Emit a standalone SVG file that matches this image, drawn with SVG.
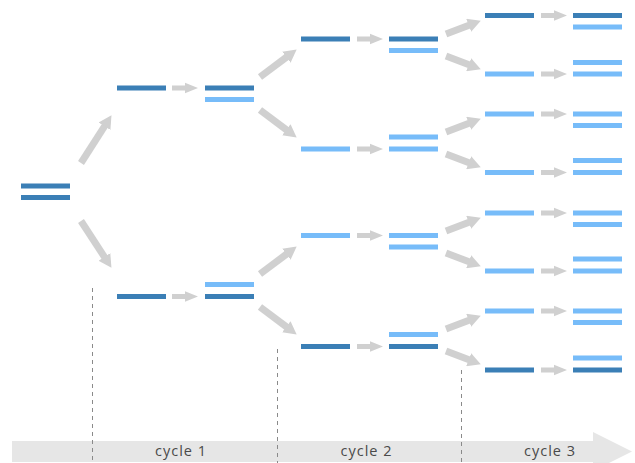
<svg xmlns="http://www.w3.org/2000/svg" width="635" height="463" viewBox="0 0 635 463">
<defs>
<style>
.d{fill:#3b7fb6}
.l{fill:#77bcf9}
.diag{stroke:#d0d0d0;stroke-width:7;fill:none;marker-end:url(#ah)}
.h{fill:#d0d0d0}
.dash{stroke:#8a8a8a;stroke-width:1;stroke-dasharray:4 4;fill:none}
.lbl{font-family:"Open Sans","Liberation Sans",sans-serif;font-size:14.5px;fill:#4a4a4a;text-anchor:middle}
</style>
<marker id="ah" markerUnits="userSpaceOnUse" markerWidth="14" markerHeight="14" refX="1" refY="6.5" orient="auto" viewBox="0 0 13 13">
<path d="M0,0 L12,6.5 L0,13 Z" fill="#d0d0d0"/>
</marker>
<path id="ha" d="M0,-2.5 H13 V-5.2 L26,0 L13,5.2 V2.5 H0 Z"/>
</defs>
<rect width="635" height="463" fill="#ffffff"/>

<g id="timeline">
<path d="M12,441 H593 V432 L632,451.5 L593,471 V462 H12 Z" fill="#e6e6e6"/>
<text class="lbl" x="180.5" y="456" textLength="51" lengthAdjust="spacing">cycle 1</text>
<text class="lbl" x="366" y="456" textLength="51" lengthAdjust="spacing">cycle 2</text>
<text class="lbl" x="549.5" y="456" textLength="51" lengthAdjust="spacing">cycle 3</text>
</g>

<g id="dividers">
<line class="dash" x1="92.5" y1="288" x2="92.5" y2="463"/>
<line class="dash" x1="277.5" y1="349" x2="277.5" y2="463"/>
<line class="dash" x1="461.5" y1="370" x2="461.5" y2="463"/>
</g>

<g id="connectors">
<line class="diag" x1="81" y1="163" x2="105.1" y2="125.3"/>
<line class="diag" x1="81" y1="221" x2="105" y2="257.8"/>
<line class="diag" x1="260" y1="77" x2="287.2" y2="56.6"/>
<line class="diag" x1="260" y1="110" x2="287.2" y2="130.4"/>
<line class="diag" x1="260" y1="274" x2="287.2" y2="253.6"/>
<line class="diag" x1="260" y1="307" x2="287.2" y2="327.4"/>
<line class="diag" x1="446" y1="34" x2="469.7" y2="24.9"/>
<line class="diag" x1="446" y1="56" x2="469.7" y2="65.1"/>
<line class="diag" x1="446" y1="132" x2="469.7" y2="122.9"/>
<line class="diag" x1="446" y1="154" x2="469.7" y2="163.1"/>
<line class="diag" x1="446" y1="231" x2="469.7" y2="221.9"/>
<line class="diag" x1="446" y1="253" x2="469.7" y2="262.1"/>
<line class="diag" x1="446" y1="329" x2="469.7" y2="319.9"/>
<line class="diag" x1="446" y1="351" x2="469.7" y2="360.1"/>
<use href="#ha" class="h" x="172" y="88"/>
<use href="#ha" class="h" x="172" y="296.5"/>
<use href="#ha" class="h" x="357" y="39"/>
<use href="#ha" class="h" x="357" y="149"/>
<use href="#ha" class="h" x="357" y="235.5"/>
<use href="#ha" class="h" x="357" y="346.5"/>
<use href="#ha" class="h" x="541" y="15.5"/>
<use href="#ha" class="h" x="541" y="74"/>
<use href="#ha" class="h" x="541" y="114"/>
<use href="#ha" class="h" x="541" y="172.5"/>
<use href="#ha" class="h" x="541" y="213"/>
<use href="#ha" class="h" x="541" y="271"/>
<use href="#ha" class="h" x="541" y="311"/>
<use href="#ha" class="h" x="541" y="370"/>
</g>

<g id="n0"><rect class="d" x="21" y="183.5" width="49" height="5"/><rect class="d" x="21" y="195" width="49" height="5"/></g>

<g id="c1a-single"><rect class="d" x="117" y="85.5" width="49" height="5"/></g>
<g id="c1a-pair"><rect class="d" x="205" y="85.5" width="49" height="5"/><rect class="l" x="205" y="97" width="49" height="5"/></g>
<g id="c1b-single"><rect class="d" x="117" y="294" width="49" height="5"/></g>
<g id="c1b-pair"><rect class="l" x="205" y="282" width="49" height="5"/><rect class="d" x="205" y="294" width="49" height="5"/></g>

<g id="c2a-single"><rect class="d" x="301" y="36.5" width="49" height="5"/></g>
<g id="c2a-pair"><rect class="d" x="389" y="36.5" width="49" height="5"/><rect class="l" x="389" y="48" width="49" height="5"/></g>
<g id="c2b-single"><rect class="l" x="301" y="146.5" width="49" height="5"/></g>
<g id="c2b-pair"><rect class="l" x="389" y="134.5" width="49" height="5"/><rect class="l" x="389" y="146.5" width="49" height="5"/></g>
<g id="c2c-single"><rect class="l" x="301" y="233" width="49" height="5"/></g>
<g id="c2c-pair"><rect class="l" x="389" y="233" width="49" height="5"/><rect class="l" x="389" y="244.5" width="49" height="5"/></g>
<g id="c2d-single"><rect class="d" x="301" y="344" width="49" height="5"/></g>
<g id="c2d-pair"><rect class="l" x="389" y="332" width="49" height="5"/><rect class="d" x="389" y="344" width="49" height="5"/></g>

<g id="c3-1-single"><rect class="d" x="485" y="13" width="49" height="5"/></g>
<g id="c3-1-pair"><rect class="d" x="573" y="13" width="49" height="5"/><rect class="l" x="573" y="24.5" width="49" height="5"/></g>
<g id="c3-2-single"><rect class="l" x="485" y="71.5" width="49" height="5"/></g>
<g id="c3-2-pair"><rect class="l" x="573" y="60" width="49" height="5"/><rect class="l" x="573" y="71.5" width="49" height="5"/></g>
<g id="c3-3-single"><rect class="l" x="485" y="111.5" width="49" height="5"/></g>
<g id="c3-3-pair"><rect class="l" x="573" y="111.5" width="49" height="5"/><rect class="l" x="573" y="123" width="49" height="5"/></g>
<g id="c3-4-single"><rect class="l" x="485" y="170" width="49" height="5"/></g>
<g id="c3-4-pair"><rect class="l" x="573" y="158" width="49" height="5"/><rect class="l" x="573" y="170" width="49" height="5"/></g>
<g id="c3-5-single"><rect class="l" x="485" y="210.5" width="49" height="5"/></g>
<g id="c3-5-pair"><rect class="l" x="573" y="210.5" width="49" height="5"/><rect class="l" x="573" y="222" width="49" height="5"/></g>
<g id="c3-6-single"><rect class="l" x="485" y="268.5" width="49" height="5"/></g>
<g id="c3-6-pair"><rect class="l" x="573" y="256.5" width="49" height="5"/><rect class="l" x="573" y="268.5" width="49" height="5"/></g>
<g id="c3-7-single"><rect class="l" x="485" y="308.5" width="49" height="5"/></g>
<g id="c3-7-pair"><rect class="l" x="573" y="308.5" width="49" height="5"/><rect class="l" x="573" y="320" width="49" height="5"/></g>
<g id="c3-8-single"><rect class="d" x="485" y="367.5" width="49" height="5"/></g>
<g id="c3-8-pair"><rect class="l" x="573" y="355.5" width="49" height="5"/><rect class="d" x="573" y="367.5" width="49" height="5"/></g>
</svg>
